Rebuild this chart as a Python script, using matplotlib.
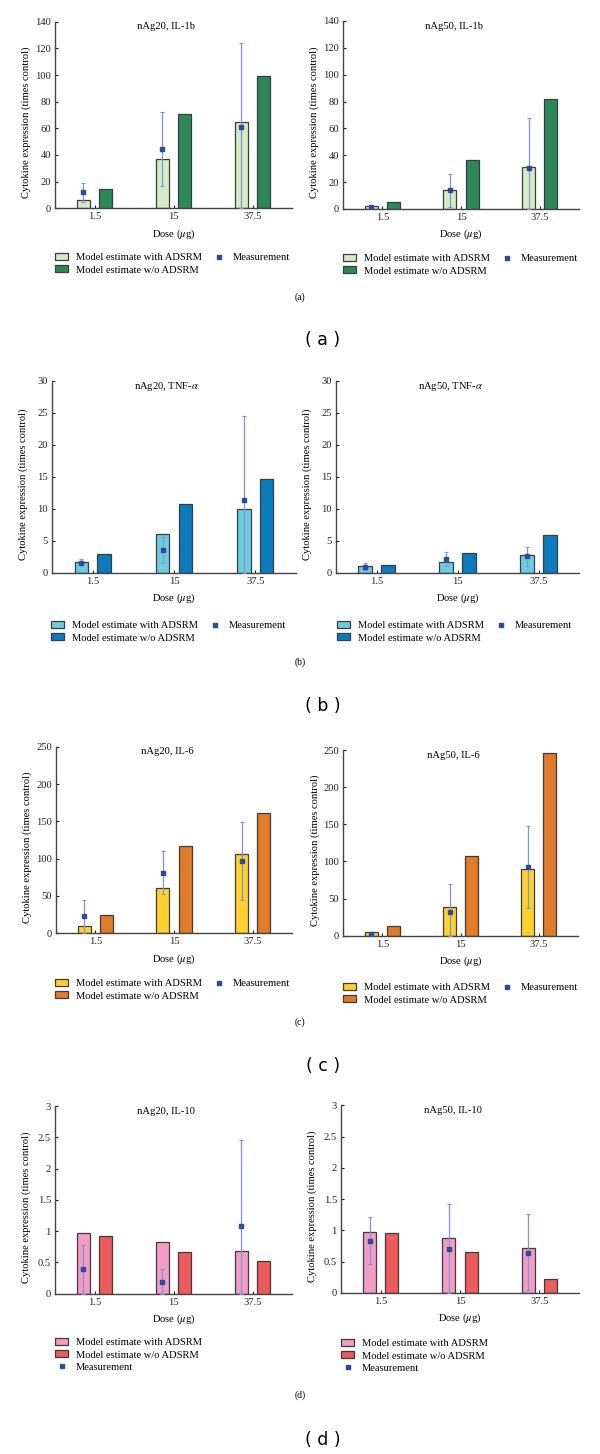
#!/usr/bin/env python3
"""Cytokine expression: model estimates with / without ADSRM vs. measurement."""

import matplotlib
matplotlib.use("Agg")
import matplotlib.pyplot as plt
from matplotlib.patches import Patch
from matplotlib.lines import Line2D
from matplotlib.ticker import FuncFormatter

plt.rcParams["font.family"] = ["Liberation Serif", "DejaVu Serif"]
plt.rcParams["mathtext.fontset"] = "stix"

doses = ["1.5", "15", "37.5"]

# IL-1b
il1b_ag20_with = [6, 37, 65]
il1b_ag20_wo = [14.75, 71, 99]
il1b_ag20_meas = [12, 44.75, 61]
il1b_ag20_lo = [5, 17, 0]
il1b_ag20_hi = [19.25, 72, 124]

il1b_ag50_with = [2.5, 13.8, 31]
il1b_ag50_wo = [5.2, 36.8, 82]
il1b_ag50_meas = [1.5, 14.3, 30.6]
il1b_ag50_lo = [0.8, 1.7, 0]
il1b_ag50_hi = [2.2, 26.4, 68]

# TNF-alpha
tnf_ag20_with = [1.6, 6.0, 10.0]
tnf_ag20_wo = [2.86, 10.8, 14.66]
tnf_ag20_meas = [1.56, 3.48, 11.4]
tnf_ag20_lo = [1.25, 1.46, 0]
tnf_ag20_hi = [2.18, 5.56, 24.6]

tnf_ag50_with = [0.99, 1.66, 2.75]
tnf_ag50_wo = [1.2, 3.07, 5.87]
tnf_ag50_meas = [0.94, 2.18, 2.6]
tnf_ag50_lo = [0.42, 1.09, 1.04]
tnf_ag50_hi = [1.56, 3.27, 4.05]

# IL-6
il6_ag20_with = [9.8, 61, 106]
il6_ag20_wo = [24, 116.5, 161.6]
il6_ag20_meas = [23, 81, 97]
il6_ag20_lo = [0, 52, 45]
il6_ag20_hi = [45, 110, 148.7]

il6_ag50_with = [4.5, 38, 90]
il6_ag50_wo = [12.6, 107.4, 246]
il6_ag50_meas = [2.5, 31.5, 92.5]
il6_ag50_lo = [1.5, 0, 37]
il6_ag50_hi = [3.5, 69, 148]

# IL-10
il10_ag20_with = [0.965, 0.82, 0.69]
il10_ag20_wo = [0.93, 0.66, 0.53]
il10_ag20_meas = [0.395, 0.19, 1.09]
il10_ag20_lo = [0, 0, 0]
il10_ag20_hi = [0.78, 0.39, 2.45]

il10_ag50_with = [0.98, 0.874, 0.714]
il10_ag50_wo = [0.954, 0.65, 0.22]
il10_ag50_meas = [0.837, 0.70, 0.645]
il10_ag50_lo = [0.47, 0, 0.04]
il10_ag50_hi = [1.21, 1.43, 1.26]

W, H = 600, 1454
MEAS_COLOR = "#2d4a9e"
ERR_COLOR = "#7f96d2"
EDGE = "#3c3c3c"
FS = 7.6


def px_rect(x0, x1, top, bottom):
    return [x0 / W, 1 - bottom / H, (x1 - x0) / W, (bottom - top) / H]


def draw_panel(fig, rect, title, with_v, wo_v, meas, lo, hi, ymax, ystep,
               colors, legend_xy, ncol=2):
    ax = fig.add_axes(rect)
    x = list(range(len(doses)))
    off, bw = 0.14, 0.165
    ax.bar([i - off for i in x], with_v, bw, color=colors[0], edgecolor=EDGE, linewidth=0.9, zorder=2)
    ax.bar([i + off for i in x], wo_v, bw, color=colors[1], edgecolor=EDGE, linewidth=0.9, zorder=2)
    yerr = [[m - l for m, l in zip(meas, lo)], [h - m for m, h in zip(meas, hi)]]
    ax.errorbar([i - off for i in x], meas, yerr=yerr, fmt="s", ms=2.6,
                color=MEAS_COLOR, ecolor=ERR_COLOR, elinewidth=0.9, capsize=1.5,
                capthick=0.8, zorder=3)

    ax.set_xlim(-0.5, len(doses) - 0.5)
    ax.set_ylim(0, ymax)
    nticks = int(round(ymax / ystep))
    ax.set_yticks([k * ystep for k in range(nticks + 1)])
    ax.yaxis.set_major_formatter(FuncFormatter(lambda v, p: f"{v:g}"))
    ax.set_xticks(x)
    ax.set_xticklabels(doses)
    ax.tick_params(direction="in", length=2.5, width=0.8, labelsize=7.6, pad=3, colors="#222")
    for s in ("top", "right"):
        ax.spines[s].set_visible(False)
    for s in ("left", "bottom"):
        ax.spines[s].set_color("#444")
        ax.spines[s].set_linewidth(1.0)

    ax.text(0.47, 0.972, title, transform=ax.transAxes, ha="center", va="center", fontsize=FS)
    ax.set_xlabel(r"Dose ($\mu$g)", fontsize=FS, labelpad=4)
    ax.set_ylabel("Cytokine expression (times control)", fontsize=FS)
    ax.yaxis.set_label_coords(-0.10, 0.46)

    handles = [
        Patch(facecolor=colors[0], edgecolor=EDGE, linewidth=0.9),
        Patch(facecolor=colors[1], edgecolor=EDGE, linewidth=0.9),
        Line2D([], [], marker="s", ms=2.6, color=MEAS_COLOR, linestyle="none"),
    ]
    labels = ["Model estimate with ADSRM", "Model estimate w/o ADSRM", "Measurement"]
    ax.legend(handles, labels, loc="upper left",
              bbox_to_anchor=(legend_xy[0] / W, 1 - legend_xy[1] / H),
              bbox_transform=fig.transFigure, ncol=ncol, frameon=False,
              fontsize=FS, borderpad=0, borderaxespad=0, handlelength=1.25,
              handleheight=0.65, handletextpad=0.7, columnspacing=1.0,
              labelspacing=0.3)
    return ax


fig = plt.figure(figsize=(W / 100, H / 100), dpi=100)

green = ("#d5ebc7", "#2a8957")
blue = ("#6dcde0", "#0b7bbf")
yellow = ("#ffd12c", "#e07b28")
pink = ("#f39cc6", "#ee5b5d")

draw_panel(fig, px_rect(55, 292, 21.7, 208.3), "nAg20, IL-1b",
           il1b_ag20_with, il1b_ag20_wo, il1b_ag20_meas, il1b_ag20_lo, il1b_ag20_hi,
           140, 20, green, (55, 253))
draw_panel(fig, px_rect(343, 579, 21, 209), "nAg50, IL-1b",
           il1b_ag50_with, il1b_ag50_wo, il1b_ag50_meas, il1b_ag50_lo, il1b_ag50_hi,
           140, 20, green, (343, 254))

draw_panel(fig, px_rect(52, 296, 381, 572.7), "nAg20, TNF-$\\alpha$",
           tnf_ag20_with, tnf_ag20_wo, tnf_ag20_meas, tnf_ag20_lo, tnf_ag20_hi,
           30, 5, blue, (51, 621))
draw_panel(fig, px_rect(336, 579, 381, 572.7), "nAg50, TNF-$\\alpha$",
           tnf_ag50_with, tnf_ag50_wo, tnf_ag50_meas, tnf_ag50_lo, tnf_ag50_hi,
           30, 5, blue, (337, 621))

draw_panel(fig, px_rect(56, 292, 746.7, 933.3), "nAg20, IL-6",
           il6_ag20_with, il6_ag20_wo, il6_ag20_meas, il6_ag20_lo, il6_ag20_hi,
           250, 50, yellow, (55, 979))
draw_panel(fig, px_rect(343, 578, 750, 935.7), "nAg50, IL-6",
           il6_ag50_with, il6_ag50_wo, il6_ag50_meas, il6_ag50_lo, il6_ag50_hi,
           250, 50, yellow, (343, 983))

draw_panel(fig, px_rect(55, 292, 1106, 1293.7), "nAg20, IL-10",
           il10_ag20_with, il10_ag20_wo, il10_ag20_meas, il10_ag20_lo, il10_ag20_hi,
           3, 0.5, pink, (55, 1338), ncol=1)
draw_panel(fig, px_rect(341, 579, 1105.4, 1293), "nAg50, IL-10",
           il10_ag50_with, il10_ag50_wo, il10_ag50_meas, il10_ag50_lo, il10_ag50_hi,
           3, 0.5, pink, (341, 1339), ncol=1)

# sub-figure captions
for letter, y_small, y_big in [("a", 297, 340), ("b", 662, 706), ("c", 1022, 1066), ("d", 1395, 1440)]:
    fig.text(300 / W, 1 - y_small / H, f"({letter})", ha="center", va="center", fontsize=7)
    fig.text(323 / W, 1 - y_big / H, f"( {letter} )", ha="center", va="center",
             fontsize=12.5, family="DejaVu Sans")

fig.savefig("out.png", dpi=100)
